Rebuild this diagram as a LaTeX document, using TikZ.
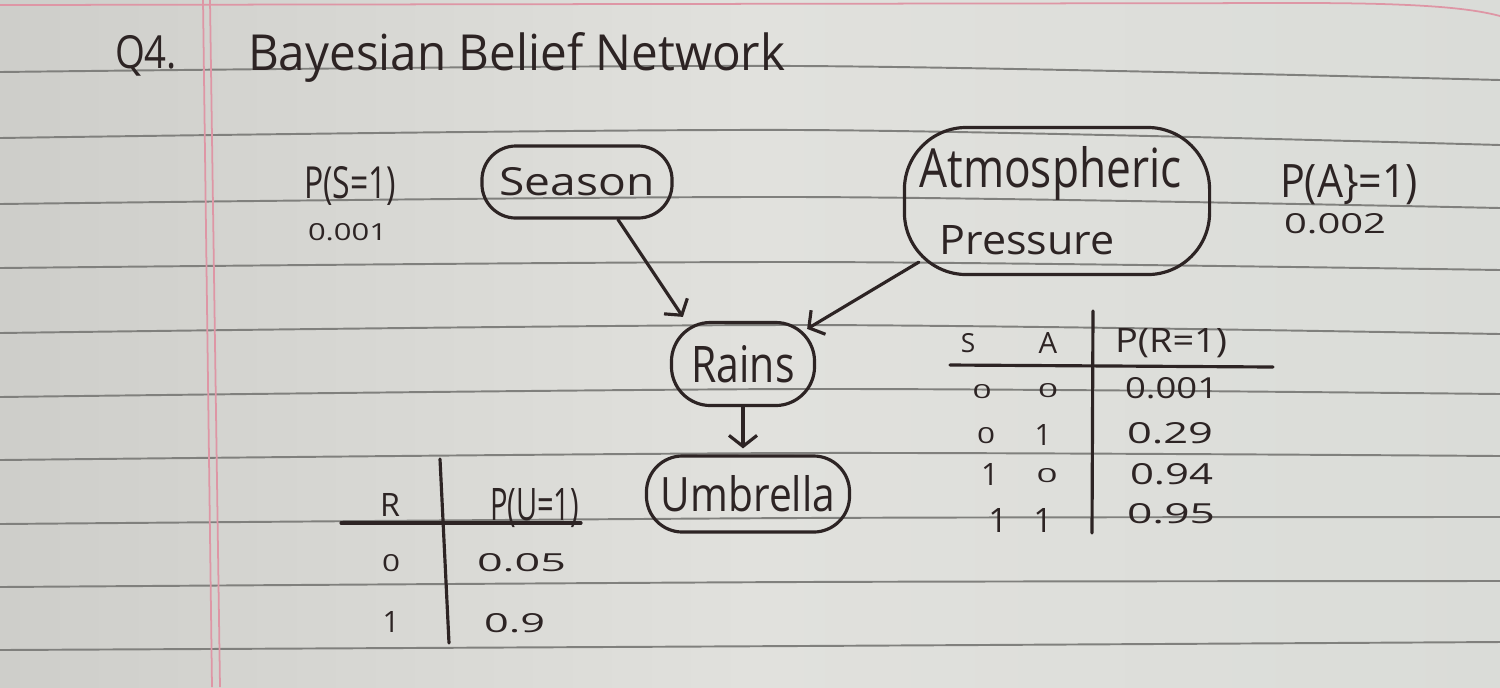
\documentclass[tikz,border=0pt]{standalone}
\usepackage{fontspec}
\setmainfont{Open Sans}
\usepackage{graphicx}
\usetikzlibrary{arrows.meta,calc}
\definecolor{ink}{RGB}{45,36,36}
\definecolor{rulecol}{RGB}{128,128,125}
\definecolor{margincol}{RGB}{222,150,165}
\definecolor{paperL}{RGB}{206,206,202}
\definecolor{paperM}{RGB}{225,225,221}
\definecolor{paperR}{RGB}{218,220,216}
\newcommand{\hwt}[3]{\resizebox{#1cm}{#2cm}{#3}}
\newcommand{\hwh}[2]{\resizebox{!}{#1cm}{#2}}
\begin{document}
\begin{tikzpicture}[x=0.01cm,y=-0.01cm,
  txt/.style={inner sep=0pt, outer sep=0pt, text=ink, anchor=base west},
  chr/.style={inner sep=0pt, outer sep=0pt, text=ink, anchor=base},
  bubble/.style={draw=ink, line width=0.9pt, rectangle, inner sep=0pt, text=ink},
  inkline/.style={draw=ink, line width=0.9pt, line cap=round},
  link/.style={inkline, -{Straight Barb[length=1.1mm,width=2.8mm]}},
  ruled/.style={draw=rulecol, line width=0.55pt},
  pinkline/.style={draw=margincol, line width=0.5pt}]
\useasboundingbox (0,0) rectangle (1500,687);
% paper
\shade[left color=paperL, right color=paperR, middle color=paperM] (0,0) rectangle (1500,687);
\foreach \a/\b/\c in {72/66/80, 138/130/145, 204/197/208, 268/262/270, 333/325/334, 397/389/394, 460/453/456, 524/518/517, 587/582/581, 650/646/642}
  \draw[ruled] plot[smooth] coordinates {(0,\a) (800,\b) (1500,\c)};
\draw[pinkline] (0,5) -- (1300,3) .. controls (1420,3) and (1470,8) .. (1500,16);
\draw[pinkline] (203,0) -- (212,687);
\draw[pinkline] (210,0) -- (220,687);
% title
\node[txt] (q4) at (115,68) {\hwt{0.62}{0.33}{Q4.}};
\node[txt] (title) at (248,70) {\hwt{5.37}{0.38}{Bayesian Belief Network}};
% network nodes
\node[bubble, minimum width=1.90cm, minimum height=0.72cm, rounded corners=0.34cm] (season) at (577,182) {\hwt{1.55}{0.28}{Season}};
\node[bubble, minimum width=3.05cm, minimum height=1.47cm, rounded corners=0.62cm] (atm) at (1057,201)
  {\vbox{\offinterlineskip\hbox{\raisebox{0pt}[\height][0pt]{\hwt{2.62}{0.41}{Atmospheric}}\hspace{0.13cm}}\vskip0.38cm\hbox{\hspace{0.20cm}\hwt{1.75}{0.29}{Pressure}}}};
\node[bubble, minimum width=1.43cm, minimum height=0.83cm, rounded corners=0.39cm] (rains) at (743,364) {\hwt{1.03}{0.37}{Rains}};
\node[bubble, minimum width=2.03cm, minimum height=0.76cm, rounded corners=0.36cm] (umb) at (748,494) {\hwt{1.74}{0.36}{Umbrella}};
% priors
\node[txt] (pS) at (304,198) {\hwt{0.92}{0.32}{P(S=1)}};
\node[txt] (pSv) at (308,240) {\hwt{0.79}{0.17}{0.001}};
\node[txt] (pA) at (1280,197) {\hwt{1.38}{0.33}{P(A\}=1)}};
\node[txt] (pAv) at (1284,233) {\hwt{1.02}{0.20}{0.002}};
% right table
\node[chr] (hS) at (968,352) {\hwh{0.19}{S}};
\node[chr] (hA) at (1048,353) {\hwh{0.21}{A}};
\node[txt] (hPR) at (1115,352) {\hwt{1.12}{0.24}{P(R=1)}};
\node[chr] (r1s) at (982,398) {\hwt{0.19}{0.14}{0}};
\node[chr] (r1a) at (1048,397) {\hwt{0.20}{0.14}{0}};
\node[txt] (r1p) at (1125,398) {\hwt{0.93}{0.21}{0.001}};
\node[chr] (r2s) at (986,443) {\hwt{0.18}{0.16}{0}};
\node[chr] (r2a) at (1043,445) {\hwh{0.21}{1}};
\node[txt] (r2p) at (1127,443) {\hwt{0.86}{0.21}{0.29}};
\node[chr] (r3s) at (990,485) {\hwh{0.22}{1}};
\node[chr] (r3a) at (1047,482) {\hwt{0.21}{0.14}{0}};
\node[txt] (r3p) at (1130,484) {\hwt{0.83}{0.21}{0.94}};
\node[chr] (r4s) at (998,532) {\hwh{0.24}{1}};
\node[chr] (r4a) at (1043,532) {\hwh{0.24}{1}};
\node[txt] (r4p) at (1127,523) {\hwt{0.88}{0.20}{0.95}};
\draw[inkline] (950,365) -- (1273,367);
\draw[inkline] (1093,311) -- (1092,533);
% left table
\node[chr] (hR) at (390,516) {\hwh{0.23}{R}};
\node[txt] (hPU) at (490,520) {\hwt{0.89}{0.32}{P(U=1)}};
\draw[inkline] (341,523) -- (581,523);
\draw[inkline] (440,459) -- (449,643);
\node[chr] (l1r) at (391,571) {\hwt{0.18}{0.17}{0}};
\node[txt] (l1p) at (477,571) {\hwt{0.89}{0.18}{0.05}};
\node[chr] (l2r) at (391,632) {\hwh{0.21}{1}};
\node[txt] (l2p) at (484,632) {\hwt{0.61}{0.19}{0.9}};
% arrows
\draw[link] ($(season.south)+(41,0)$) -- ($(rains.north west)+(13,-4)$);
\draw[link] ($(atm.south west)+(16,-14)$) -- ($(rains.north east)+(-9,8)$);
\draw[link, shorten >=0.06cm] (rains.south) -- (rains.south |- umb.north);
\end{tikzpicture}
\end{document}
